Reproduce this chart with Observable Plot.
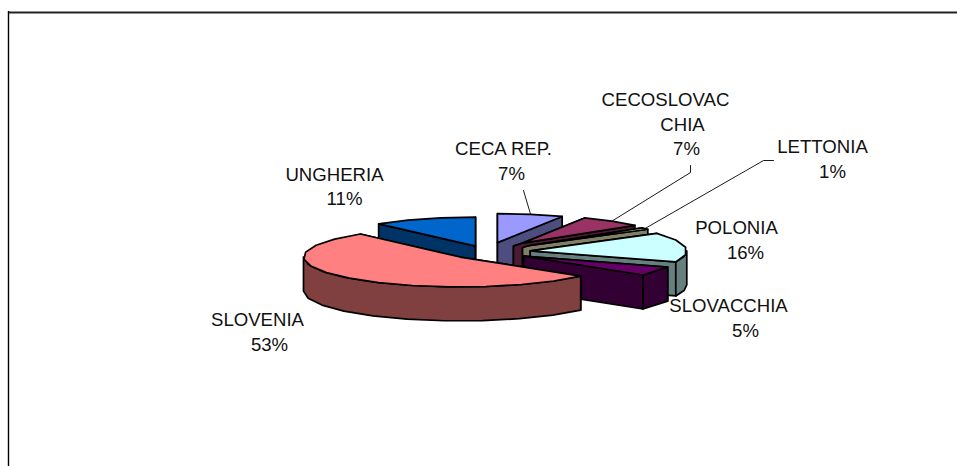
<!DOCTYPE html>
<html><head><meta charset="utf-8">
<script src="https://cdn.jsdelivr.net/npm/d3@7"></script>
<script src="https://cdn.jsdelivr.net/npm/@observablehq/plot@0.6"></script>
<style>html,body{margin:0;padding:0;background:#fff}svg{display:block}</style>
</head><body><div id="chart"></div>
<script>
// Data
const categories = ["CECA REP.", "CECOSLOVACCHIA", "LETTONIA", "POLONIA", "SLOVACCHIA", "SLOVENIA", "UNGHERIA"];
const values = [7, 7, 1, 16, 5, 53, 11];
const nameLines = [["CECA REP."], ["CECOSLOVAC", "CHIA"], ["LETTONIA"], ["POLONIA"], ["SLOVACCHIA"], ["SLOVENIA"], ["UNGHERIA"]];
const topColors = ["#9999FF", "#993366", "#FFFFCC", "#CCFFFF", "#660066", "#FF8080", "#0066CC"];
const wallColors = ["#4D4D80", "#4D1A33", "#808066", "#668080", "#330033", "#804040", "#003366"];

// Pie layout
const center = [486, 251.5], rx = 152, ry = 29, depth = 34;
const explode = [0.33, 0.386, 0.35, 0.29, 0.283, 0.246, 0.213];
const radius = [1, 0.96, 0.97, 1.03, 1.02, 1.03, 1];
const hubInset = [0, 9, 6, 0, 0, 0, 0];
const paintOrder = [6, 0, 1, 2, 3, 4, 5];
const labelAt = [[503, 149, 511, 174], [665, 100, 686, 149], [822, 147, 832, 172], [736, 228, 745, 253], [728, 306, 745, 331], [257, 320, 269, 345], [334, 175, 344, 199]];
const elbows = [[[523, 190]], [[690, 172], [690, 165]], [[763, 160], [773, 160]], [], [], [], []];

const total = d3.sum(values);
let acc = 0;
const slices = values.map((v, i) => {
  const a0 = acc / total * 2 * Math.PI; acc += v;
  const a1 = acc / total * 2 * Math.PI;
  const mid = (a0 + a1) / 2;
  const apex = [center[0] + explode[i] * rx * Math.sin(mid), center[1] - explode[i] * ry * Math.cos(mid)];
  return {i, a0, a1, mid, apex, k: radius[i]};
});
const rim = (s, a, dz = 0) => [s.apex[0] + s.k * rx * Math.sin(a), s.apex[1] - s.k * ry * Math.cos(a) + dz];
const arc = (s, a0, a1, dz = 0) => {
  const n = Math.max(1, Math.round((a1 - a0) / (14 * Math.PI / 180)));
  return d3.range(n + 1).map(k => rim(s, a0 + (a1 - a0) * k / n, dz));
};

const faces = [];
for (const idx of paintOrder) {
  const s = slices[idx];
  const A = s.apex, B = [A[0], A[1] + depth];
  const inset = hubInset[idx];
  for (const a of [s.a0, s.a1]) {
    const hub = inset ? [[A[0] - inset, A[1] + depth], [A[0] - inset, A[1] + inset / 3]] : [];
    faces.push({pts: [A, rim(s, a), rim(s, a, depth), B, ...hub], fill: wallColors[idx]});
  }
  const f0 = Math.max(s.a0, Math.PI / 2), f1 = Math.min(s.a1, 3 * Math.PI / 2);
  if (f1 > f0) faces.push({pts: [...arc(s, f0, f1), ...arc(s, f0, f1, depth).reverse()], fill: wallColors[idx]});
  faces.push({pts: [A, ...arc(s, s.a0, s.a1)], fill: topColors[idx]});
}

const textRows = [];
nameLines.forEach((lines, i) => {
  const [nx, ny, px, py] = labelAt[i];
  const step = 24.5;
  lines.forEach((t, k) => textRows.push({x: k === 0 ? nx : 682, y: ny + k * step, t}));
  textRows.push({x: px, y: py, t: values[i] + "%"});
});

const leaders = slices.flatMap((s, i) => elbows[i].length ? [[rim(s, s.mid), ...elbows[i]]] : []);

const plot = Plot.plot({
  width: 957, height: 466, margin: 0,
  x: {domain: [0, 957], range: [0, 957], axis: null},
  y: {domain: [0, 466], range: [0, 466], axis: null},
  style: {background: "#fff"},
  marks: [
    Plot.ruleY([12], {x1: 8, x2: 957, stroke: "#222", strokeWidth: 1.8}),
    Plot.ruleX([8], {y1: 11, y2: 466, stroke: "#000", strokeWidth: 1.4}),
    ...faces.map(f => Plot.line(f.pts, {x: d => d[0], y: d => d[1], curve: "linear-closed", fill: f.fill, stroke: "#000", strokeWidth: 1.7, strokeLinejoin: "round"})),
    ...leaders.map(l => Plot.line(l, {x: d => d[0], y: d => d[1], stroke: "#000", strokeWidth: 0.9})),
    Plot.text(textRows, {x: "x", y: "y", text: "t", fontSize: 18.6, fontFamily: "Liberation Sans, Arial, sans-serif", fill: "#111", textAnchor: "middle", lineAnchor: "middle"})
  ]
});
document.getElementById("chart").append(plot);
</script></body></html>
